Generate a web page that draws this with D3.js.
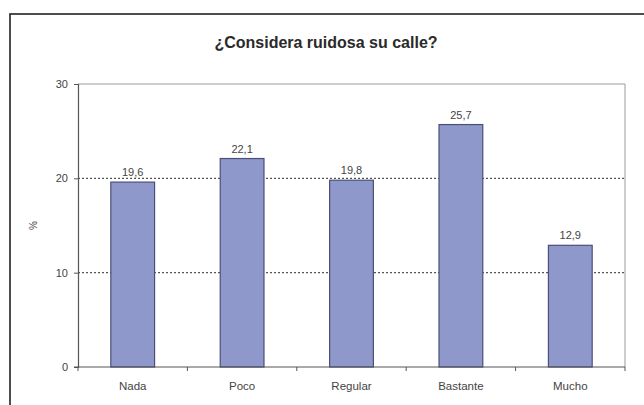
<!DOCTYPE html>
<html>
<head>
<meta charset="utf-8">
<script src="https://cdn.jsdelivr.net/npm/d3@7"></script>
<style>
  html, body { margin: 0; padding: 0; background: #ffffff; }
  svg { display: block; font-family: Arial, "Liberation Sans", sans-serif; }
</style>
</head>
<body>
<svg id="chart" width="644" height="405"></svg>
<script>
// Survey answers: "Is your street noisy?"
const categories = ["Nada", "Poco", "Regular", "Bastante", "Mucho"];
const values = [19.6, 22.1, 19.8, 25.7, 12.9];
const yTicks = [0, 10, 20, 30];
const titleText = "¿Considera ruidosa su calle?";
const yLabel = "%";

const svg = d3.select("#chart");
const margin = { left: 78, right: 19, top: 84, bottom: 38 };
const W = 644, H = 405;
const FONT = "Arial, 'Liberation Sans', sans-serif";

// Outer frame of the chart (runs off the right and bottom edges)
svg.append("rect")
  .attr("x", 10).attr("y", 14)
  .attr("width", 660).attr("height", 420)
  .attr("fill", "#ffffff")
  .attr("stroke", "#222").attr("stroke-width", 1.6);

const x = d3.scaleBand()
  .domain(categories)
  .range([margin.left, W - margin.right])
  .paddingInner(0.6).paddingOuter(0.3);

const y = d3.scaleLinear()
  .domain([0, 30])
  .range([H - margin.bottom, margin.top]);

// Plot area border (top and right)
svg.append("path")
  .attr("d", `M${margin.left},${y(30)}H${W - margin.right}V${y(0)}`)
  .attr("fill", "none").attr("stroke", "#9a9a9a").attr("stroke-width", 1);

// Dotted gridlines
svg.append("g").selectAll("line")
  .data(yTicks.filter(t => t > 0 && t < 30))
  .join("line")
  .attr("x1", margin.left).attr("x2", W - margin.right)
  .attr("y1", d => y(d)).attr("y2", d => y(d))
  .attr("stroke", "#555").attr("stroke-width", 1.2)
  .attr("stroke-dasharray", "2,2");

// Bars
svg.append("g").selectAll("rect")
  .data(values)
  .join("rect")
  .attr("x", (d, i) => x(categories[i]))
  .attr("y", d => y(d))
  .attr("width", x.bandwidth())
  .attr("height", d => y(0) - y(d))
  .attr("fill", "#8f98cb")
  .attr("stroke", "#4b4f78").attr("stroke-width", 1.2);

// Value labels
svg.append("g").selectAll("text")
  .data(values)
  .join("text")
  .attr("x", (d, i) => x(categories[i]) + x.bandwidth() / 2)
  .attr("y", d => y(d) - 6)
  .attr("text-anchor", "middle")
  .attr("font-size", 11)
  .attr("fill", "#444")
  .text(d => d.toString().replace(".", ","));

// Y axis
const yAxis = svg.append("g")
  .attr("transform", `translate(${margin.left},0)`)
  .call(d3.axisLeft(y).tickValues(yTicks).tickSize(4).tickPadding(6));
yAxis.select(".domain").attr("stroke", "#555").attr("stroke-width", 1.2);
yAxis.selectAll(".tick line").attr("stroke", "#555");
yAxis.selectAll(".tick text").attr("font-size", 11).attr("fill", "#444")
  .attr("font-family", FONT);

// X axis with ticks at category boundaries
const xAxisG = svg.append("g")
  .attr("transform", `translate(0,${y(0)})`);
xAxisG.append("line")
  .attr("x1", margin.left - 4).attr("x2", W - margin.right)
  .attr("stroke", "#555").attr("stroke-width", 1.2);
const edge = (W - margin.left - margin.right) / categories.length;
xAxisG.selectAll("line.tk")
  .data(d3.range(categories.length + 1))
  .join("line").attr("class", "tk")
  .attr("x1", i => margin.left + i * edge).attr("x2", i => margin.left + i * edge)
  .attr("y1", 0).attr("y2", 4)
  .attr("stroke", "#555");
xAxisG.selectAll("text")
  .data(categories)
  .join("text")
  .attr("x", d => x(d) + x.bandwidth() / 2)
  .attr("y", 23)
  .attr("text-anchor", "middle")
  .attr("font-size", 11.5)
  .attr("fill", "#444")
  .text(d => d);

// Y axis label
svg.append("text")
  .attr("transform", `translate(37,${(y(0) + y(30)) / 2}) rotate(-90)`)
  .attr("text-anchor", "middle")
  .attr("font-size", 10)
  .attr("fill", "#444")
  .text(yLabel);

// Title
svg.append("text")
  .attr("x", 326).attr("y", 48)
  .attr("text-anchor", "middle")
  .attr("font-size", 16)
  .attr("font-weight", "bold")
  .attr("fill", "#2a2a2a")
  .text(titleText);
</script>
</body>
</html>
